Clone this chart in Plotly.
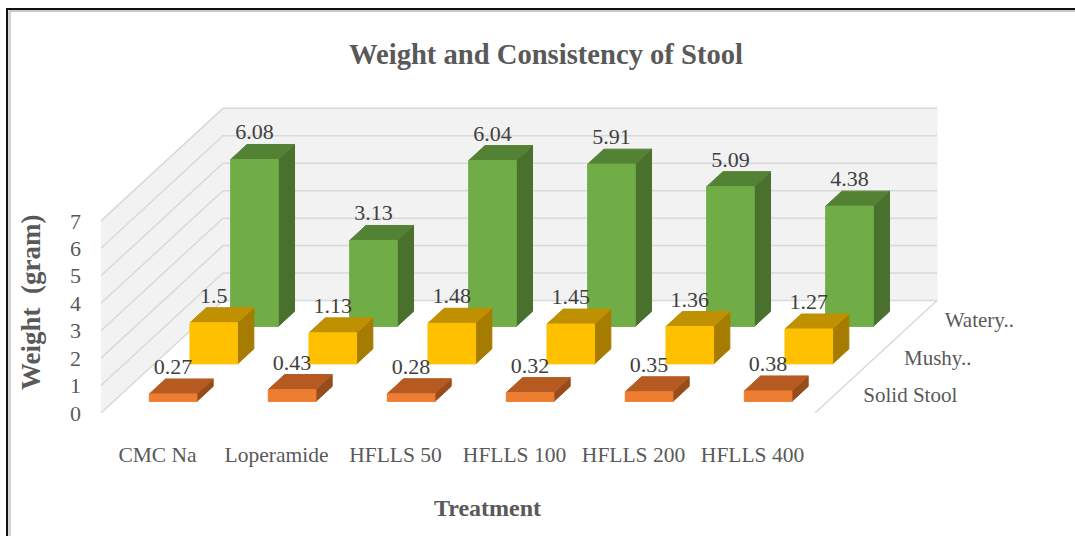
import plotly.graph_objects as go

categories = ["CMC Na", "Loperamide", "HFLLS 50", "HFLLS 100", "HFLLS 200", "HFLLS 400"]
series_names = ["Solid Stool", "Mushy..", "Watery.."]
solid_stool = [0.27, 0.43, 0.28, 0.32, 0.35, 0.38]
mushy = [1.5, 1.13, 1.48, 1.45, 1.36, 1.27]
watery = [6.08, 3.13, 6.04, 5.91, 5.09, 4.38]
value_ticks = [0, 1, 2, 3, 4, 5, 6, 7]

series_values = [solid_stool, mushy, watery]
series_colors = [
    {"front": "#ED7D31", "top": "#B55A20", "side": "#974D1B"},
    {"front": "#FFC000", "top": "#BF9000", "side": "#A67C00"},
    {"front": "#70AD47", "top": "#548235", "side": "#4A702E"},
]

# Oblique projection: one depth slot moves a point right and up on the page.
PX_X = 119.0            # pixels per category
PX_Y = 27.45            # pixels per value unit
SHEAR_X = 40.67 / PX_X  # category units per depth slot
SHEAR_Y = 37.5 / PX_Y   # value units per depth slot
BAR_W = 0.4
BAR_D = 0.4
GAP_W = 0.3
GAP_D = 0.31
LEFT, BOTTOM = 101, 123
W, H = 1075, 536
PLOT_W, PLOT_H = 899, 313
FONT = "Liberation Serif"
TEXT = "#595959"


def pt(cat, depth, val):
    return cat + SHEAR_X * depth, val + SHEAR_Y * depth


def poly(points):
    xs, ys = zip(*[pt(*p) for p in points])
    return list(xs) + [xs[0], None], list(ys) + [ys[0], None]


def add_faces(fig, faces, color, line=None, width=1, name=""):
    x, y = [], []
    for f in faces:
        a, b = poly(f)
        x += a
        y += b
    fig.add_trace(go.Scatter(x=x, y=y, mode="lines", fill="toself", fillcolor=color,
                             line=dict(color=line or color, width=width),
                             hoverinfo="skip", showlegend=False, name=name))


def page_x(px):
    return (px - LEFT) / PLOT_W


def page_y(px):
    return (H - px - BOTTOM) / PLOT_H


def rule(x0, y0, x1, y1, color, width):
    return dict(type="line", xref="paper", yref="paper", x0=page_x(x0), x1=page_x(x1),
                y0=page_y(y0), y1=page_y(y1), line=dict(color=color, width=width))


fig = go.Figure()
n_cat, n_ser, top = len(categories), len(series_names), value_ticks[-1]

# walls
add_faces(fig, [[(0, 0, 0), (0, n_ser, 0), (0, n_ser, top), (0, 0, top)]], "#F2F2F2", name="side wall")
add_faces(fig, [[(0, n_ser, 0), (n_cat, n_ser, 0), (n_cat, n_ser, top), (0, n_ser, top)]], "#F2F2F2", name="back wall")

# gridlines
gx, gy = [], []
for v in value_ticks:
    for c, d in [(0, 0), (0, n_ser), (n_cat, n_ser)]:
        a, b = pt(c, d, v)
        gx.append(a)
        gy.append(b)
    gx.append(None)
    gy.append(None)
for c, d in [(n_cat, n_ser), (n_cat, 0)]:
    a, b = pt(c, d, 0)
    gx.append(a)
    gy.append(b)
fig.add_trace(go.Scatter(x=gx, y=gy, mode="lines", line=dict(color="#D9D9D9", width=1.5),
                         hoverinfo="skip", showlegend=False, name="grid"))

# bars, back to front
for s in reversed(range(n_ser)):
    vals = series_values[s]
    fronts, tops, sides = [], [], []
    for c, v in enumerate(vals):
        x0, x1 = c + GAP_W, c + GAP_W + BAR_W
        d0, d1 = s + GAP_D, s + GAP_D + BAR_D
        fronts.append([(x0, d0, 0), (x1, d0, 0), (x1, d0, v), (x0, d0, v)])
        tops.append([(x0, d0, v), (x1, d0, v), (x1, d1, v), (x0, d1, v)])
        sides.append([(x1, d0, 0), (x1, d1, 0), (x1, d1, v), (x1, d0, v)])
    col = series_colors[s]
    add_faces(fig, sides, col["side"], name=series_names[s] + " side")
    add_faces(fig, tops, col["top"], name=series_names[s] + " top")
    add_faces(fig, fronts, col["front"], name=series_names[s])

# value labels
LABEL_LIFT = 25.5 / PX_Y
for s in range(n_ser):
    vals = series_values[s]
    xs, ys = [], []
    for c, v in enumerate(vals):
        a, b = pt(c + GAP_W + BAR_W / 2, s + GAP_D, v + LABEL_LIFT)
        xs.append(a)
        ys.append(b)
    fig.add_trace(go.Scatter(x=xs, y=ys, mode="text", text=[f"{v:g}" for v in vals],
                             textposition="middle center", cliponaxis=False,
                             textfont=dict(family=FONT, size=22, color="#404040"),
                             hoverinfo="skip", showlegend=False))

# depth-axis labels
dx, dy = [], []
for s in range(n_ser):
    a, b = pt(n_cat + 28 / PX_X, s + 0.5, -2.5 / PX_Y)
    dx.append(a)
    dy.append(b)
fig.add_trace(go.Scatter(x=dx, y=dy, mode="text", text=series_names, textposition="middle right",
                         cliponaxis=False, textfont=dict(family=FONT, size=21, color=TEXT),
                         hoverinfo="skip", showlegend=False))

fig.update_layout(
    width=W, height=H, autosize=False,
    margin=dict(l=LEFT, r=W - LEFT - PLOT_W, t=H - BOTTOM - PLOT_H, b=BOTTOM, pad=0),
    paper_bgcolor="white", plot_bgcolor="white",
    xaxis=dict(range=[0, PLOT_W / PX_X], tickvals=[i + 0.475 for i in range(n_cat)], ticktext=categories,
               showgrid=False, zeroline=False, showline=False, ticks="", ticklabelstandoff=26,
               tickfont=dict(family=FONT, size=21.5, color=TEXT), fixedrange=True),
    yaxis=dict(range=[0, PLOT_H / PX_Y], tickvals=value_ticks, showgrid=False, zeroline=False,
               showline=False, ticks="", ticklabelstandoff=19,
               tickfont=dict(family=FONT, size=22, color=TEXT), fixedrange=True),
    showlegend=False,
    annotations=[
        dict(text="<b>Weight and Consistency of Stool</b>", xref="paper", yref="paper", showarrow=False,
             x=page_x(546), y=page_y(54), xanchor="center", yanchor="middle",
             font=dict(family=FONT, size=28.6, color=TEXT)),
        dict(text="<b>Treatment</b>", xref="paper", yref="paper", showarrow=False,
             x=page_x(487), y=page_y(508), xanchor="center", yanchor="middle",
             font=dict(family=FONT, size=24, color=TEXT)),
        dict(text="<b>Weight  (gram)</b>", xref="paper", yref="paper", showarrow=False, textangle=-90,
             x=page_x(31), y=page_y(303), xanchor="center", yanchor="middle",
             font=dict(family=FONT, size=27, color=TEXT)),
    ],
    shapes=[
        rule(9.5, 11, 9.5, H, "#D4D4D4", 3),
        rule(9, 11, W, 11, "#C8C8C8", 2),
        rule(7, 9, 7, H, "#111111", 2),
        rule(6, 9, W, 9, "#111111", 2),
    ],
)

fig.write_html("out.html", config={"displayModeBar": False},
               post_script="document.body.style.margin='0';")
